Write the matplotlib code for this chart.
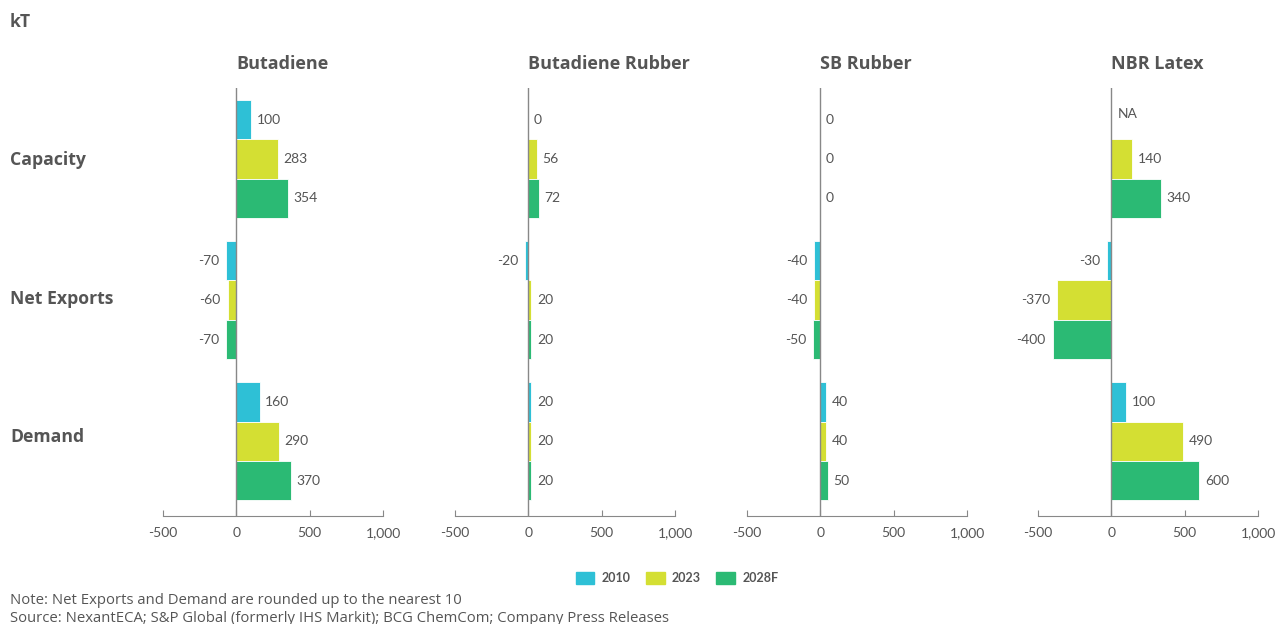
import numpy as np
import matplotlib.pyplot as plt
from matplotlib.patches import Patch

plt.rcParams['font.family'] = ['Lato', 'DejaVu Sans']
label_font = ['Open Sans', 'DejaVu Sans']

products = ["Butadiene", "Butadiene Rubber", "SB Rubber", "NBR Latex"]
metrics = ["Capacity", "Net Exports", "Demand"]
years = ["2010", "2023", "2028F"]
colors = ["#2ec0d6", "#d4df33", "#2bba74"]

# values per product: rows = metric, columns = year (None = not available)
butadiene = [[100, 283, 354], [-70, -60, -70], [160, 290, 370]]
butadiene_rubber = [[0, 56, 72], [-20, 20, 20], [20, 20, 20]]
sb_rubber = [[0, 0, 0], [-40, -40, -50], [40, 40, 50]]
nbr_latex = [[None, 140, 340], [-30, -370, -400], [100, 490, 600]]
all_values = [butadiene, butadiene_rubber, sb_rubber, nbr_latex]

x_ticks = [-500, 0, 500, 1000]
x_labels = ["-500", "0", "500", "1,000"]

text_color = "#555555"
fig = plt.figure(figsize=(12.77, 6.24), dpi=100)

bar_h = 0.279
lefts = [163, 455, 747, 1038]
for k, (name, vals) in enumerate(zip(products, all_values)):
    ax = fig.add_axes([lefts[k] / 1277, 1 - 516 / 624, 220 / 1277, 428 / 624])
    for i, row in enumerate(vals):
        for j, v in enumerate(row):
            y = i + (j - 1) * bar_h
            if v is None:
                ax.text(45, y - 0.04, "NA", va="center", ha="left", fontsize=10, color=text_color)
                continue
            ax.barh(y, v, height=bar_h, color=colors[j], edgecolor="white", linewidth=0.6)
            if v < 0:
                ax.annotate(str(v), (v, y), xytext=(-5, 0), textcoords="offset points",
                            va="center", ha="right", fontsize=10, color=text_color)
            else:
                ax.annotate(str(v), (v, y), xytext=(4, 0), textcoords="offset points",
                            va="center", ha="left", fontsize=10, color=text_color)
    ax.axvline(0, color="#888888", linewidth=1)
    ax.set_xlim(-500, 1000)
    ax.set_ylim(2.53, -0.504)
    ax.set_xticks(x_ticks)
    ax.set_xticklabels(x_labels, fontsize=10, color=text_color)
    ax.tick_params(axis="x", direction="in", length=4, color="#888888", pad=8)
    ax.set_yticks([])
    for s in ["top", "right", "left"]:
        ax.spines[s].set_visible(False)
    ax.spines["bottom"].set_color("#888888")
    # product title starts at the zero line
    ax.text(0, 1 + 24 / 428, name, transform=ax.get_xaxis_transform(), ha="left", va="center",
            fontsize=13, fontweight="bold", color=text_color, family=label_font)

for i, m in enumerate(metrics):
    fig.text(10 / 1277, 1 - (160 + i * 138.5) / 624, m, fontsize=12.7, fontweight="bold",
             color=text_color, va="center", ha="left", family=label_font)

fig.text(10 / 1277, 1 - 22 / 624, "kT", fontsize=12.7, fontweight="bold", color=text_color,
         va="center", family=label_font)

handles = [Patch(color=c, label=y) for c, y in zip(colors, years)]
leg = fig.legend(handles=handles, loc="center", bbox_to_anchor=(677 / 1277, 1 - 578 / 624), ncol=3,
                 frameon=False, handlelength=1.5, handleheight=1.2, columnspacing=1.2,
                 handletextpad=0.6, prop={"weight": "bold", "size": 9})
for t in leg.get_texts():
    t.set_color(text_color)

fig.text(10 / 1277, 1 - 600 / 624, "Note: Net Exports and Demand are rounded up to the nearest 10",
         fontsize=10.7, color=text_color, va="center", family=label_font)
fig.text(10 / 1277, 1 - 618 / 624,
         "Source: NexantECA; S&P Global (formerly IHS Markit); BCG ChemCom; Company Press Releases",
         fontsize=10.7, color=text_color, va="center", family=label_font)

fig.savefig("out.png", dpi=100)
